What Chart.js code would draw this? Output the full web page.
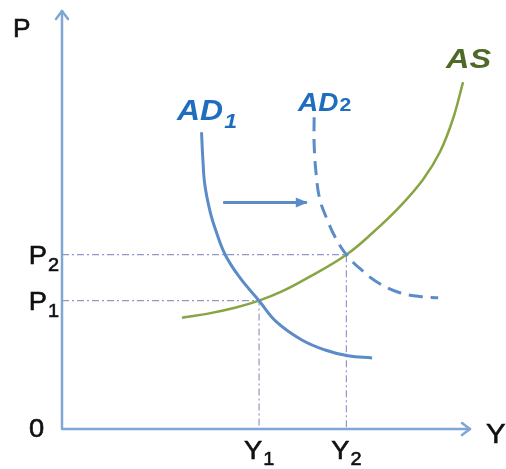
<!DOCTYPE html>
<html>
<head>
<meta charset="utf-8">
<script src="https://cdn.jsdelivr.net/npm/chart.js@4.4.1/dist/chart.umd.min.js"></script>
<style>
  html, body { margin: 0; padding: 0; background: #fff; }
  #wrap { width: 506px; height: 469px; }
</style>
</head>
<body>
<div id="wrap"><canvas id="chart" width="506" height="469"></canvas></div>
<script>
// equilibrium levels (axes run 0..100)
const priceLevels = [30.7, 41.7];     // P1, P2
const outputLevels = [48.3, 69.7];    // Y1, Y2
const levelSubscripts = ['1', '2'];

// AD1 curve
const ad1Output = [34.2, 34.5, 35.0, 36.3, 37.7, 40.0, 43.6, 48.3, 52.5, 58.8, 64.5, 70.1, 76.0];
const ad1Price  = [71.0, 65.0, 58.5, 52.0, 47.5, 41.7, 36.2, 30.7, 25.7, 21.3, 18.9, 17.5, 17.0];

// AD2 curve (after the shift)
const ad2Output = [61.8, 61.8, 62.3, 63.2, 65.0, 66.9, 69.7, 73.0, 77.5, 82.8, 87.7, 92.2];
const ad2Price  = [74.6, 68.1, 60.9, 54.9, 50.1, 46.0, 41.7, 38.4, 35.0, 32.6, 31.7, 31.4];

// AS curve
const asOutput = [29.4, 35.8, 42.4, 48.3, 53.9, 60.3, 69.7, 76.2, 82.8, 88.5, 92.6, 95.8, 98.3];
const asPrice  = [26.6, 27.6, 29.0, 30.7, 32.9, 36.2, 41.7, 47.0, 53.2, 59.7, 66.2, 74.1, 83.0];

// shift arrow AD1 -> AD2
const shiftOutput = [39.5, 60.0];
const shiftPrice  = [54.2, 54.2];

const AXIS = '#7fa6d5';
const BLUE = '#5b8bc9';
const GREEN = '#87a543';
const GUIDE = '#8f98c8';
const FONT = '"Liberation Sans", Arial, sans-serif';

function pts(xs, ys) {
    return xs.map((x, i) => ({ x: x, y: ys[i] }));
}

const guideSets = priceLevels.map((p, i) => ({
    data: [{ x: 0, y: p }, { x: outputLevels[i], y: p }, { x: outputLevels[i], y: 0 }],
    borderColor: GUIDE,
    borderWidth: 1.2,
    borderDash: [7, 3, 2, 3],
    tension: 0,
    order: 5
}));

// text with a subscript, stretched a bit sideways like the original art
function subText(ctx, x, y, big, bigFont, small, smallFont, drop, stretch, heavy) {
    ctx.save();
    ctx.translate(x, y);
    ctx.scale(stretch, 1);
    ctx.strokeStyle = ctx.fillStyle;
    ctx.lineWidth = 0.6;
    ctx.font = bigFont;
    ctx.fillText(big, 0, 0);
    if (heavy) ctx.strokeText(big, 0, 0);
    const w = ctx.measureText(big).width;
    if (small) {
        ctx.font = smallFont;
        ctx.fillText(small, w + 1, drop);
        if (heavy) ctx.strokeText(small, w + 1, drop);
    }
    ctx.restore();
}

const diagram = {
    id: 'diagram',
    beforeDatasetsDraw(chart) {
        const { ctx, chartArea: a } = chart;
        ctx.save();
        ctx.strokeStyle = AXIS;
        ctx.lineWidth = 2.5;
        ctx.lineCap = 'round';
        ctx.lineJoin = 'round';
        ctx.beginPath();
        ctx.moveTo(a.left, a.top);
        ctx.lineTo(a.left, a.bottom);
        ctx.lineTo(a.right, a.bottom);
        ctx.stroke();
        ctx.beginPath();
        ctx.moveTo(a.left - 6, a.top + 8);
        ctx.lineTo(a.left, a.top);
        ctx.lineTo(a.left + 6, a.top + 8);
        ctx.moveTo(a.right - 8, a.bottom - 6);
        ctx.lineTo(a.right, a.bottom);
        ctx.lineTo(a.right - 8, a.bottom + 6);
        ctx.stroke();
        ctx.restore();
    },
    afterDatasetsDraw(chart) {
        const { ctx, scales: { x, y } } = chart;
        ctx.save();

        // head of the shift arrow
        const tipX = x.getPixelForValue(shiftOutput[1]);
        const tipY = y.getPixelForValue(shiftPrice[1]);
        ctx.fillStyle = BLUE;
        ctx.beginPath();
        ctx.moveTo(tipX + 1, tipY);
        ctx.lineTo(tipX - 11, tipY - 5);
        ctx.lineTo(tipX - 11, tipY + 5);
        ctx.closePath();
        ctx.fill();

        const main = '26px ' + FONT;
        const sub = '19px ' + FONT;
        ctx.fillStyle = '#111';
        ctx.textAlign = 'left';
        ctx.textBaseline = 'alphabetic';

        subText(ctx, 13, 37, 'P', '25px ' + FONT, '', '', 0, 1.05, true);
        subText(ctx, 486, 443, 'Y', '28px ' + FONT, '', '', 0, 1.05, true);
        subText(ctx, 29, 437, '0', main, '', '', 0, 1.05, true);

        // P1, P2 on the price axis
        priceLevels.forEach((p, i) => {
            const py = y.getPixelForValue(p);
            ctx.font = main;
            const pw = ctx.measureText('P').width;
            ctx.font = sub;
            const sw = ctx.measureText(levelSubscripts[i]).width;
            const start = 59 - (pw + 1 + sw) * 1.05;
            subText(ctx, start, py + 9, 'P', main, levelSubscripts[i], sub, 7, 1.05, true);
        });

        // Y1, Y2 on the output axis
        outputLevels.forEach((q, i) => {
            const px = x.getPixelForValue(q);
            ctx.font = main;
            const yw = ctx.measureText('Y').width;
            ctx.font = sub;
            const sw = ctx.measureText(levelSubscripts[i]).width;
            const start = px - (yw + 1 + sw) * 1.05 / 2;
            subText(ctx, start, 459, 'Y', main, levelSubscripts[i], sub, 6, 1.05, true);
        });

        // curve names
        ctx.fillStyle = '#1f6dbf';
        subText(ctx, 177, 120, 'AD', 'italic bold 29px ' + FONT,
            '1', 'italic bold 21px ' + FONT, 8, 1.1, false);
        subText(ctx, 298, 111, 'AD', 'italic bold 25px ' + FONT,
            '2', 'bold 19px ' + FONT, 0, 1.12, false);
        ctx.fillStyle = '#4f6a28';
        subText(ctx, 446, 68, 'AS', 'italic bold 27px ' + FONT, '', '', 0, 1.2, false);

        ctx.restore();
    }
};

const ctx = document.getElementById('chart').getContext('2d');
new Chart(ctx, {
    type: 'line',
    data: {
        datasets: [
            {
                label: 'AD1',
                data: pts(ad1Output, ad1Price),
                borderColor: BLUE,
                borderWidth: 3,
                tension: 0.4,
                order: 1
            },
            {
                label: 'AD2',
                data: pts(ad2Output, ad2Price),
                borderColor: BLUE,
                borderWidth: 3,
                borderDash: [14, 8],
                tension: 0.4,
                order: 1
            },
            {
                label: 'AS',
                data: pts(asOutput, asPrice),
                borderColor: GREEN,
                borderWidth: 2.5,
                tension: 0.4,
                order: 2
            },
            {
                label: 'shift',
                data: pts(shiftOutput, shiftPrice),
                borderColor: BLUE,
                borderWidth: 3,
                tension: 0,
                order: 1
            },
            ...guideSets
        ]
    },
    options: {
        responsive: false,
        animation: false,
        layout: { padding: { left: 62, right: 36, top: 11, bottom: 40 } },
        elements: { point: { radius: 0, hoverRadius: 0 }, line: { fill: false } },
        plugins: { legend: { display: false }, tooltip: { enabled: false } },
        scales: {
            x: { type: 'linear', min: 0, max: 100, display: false },
            y: { type: 'linear', min: 0, max: 100, display: false }
        }
    },
    plugins: [diagram]
});
</script>
</body>
</html>
